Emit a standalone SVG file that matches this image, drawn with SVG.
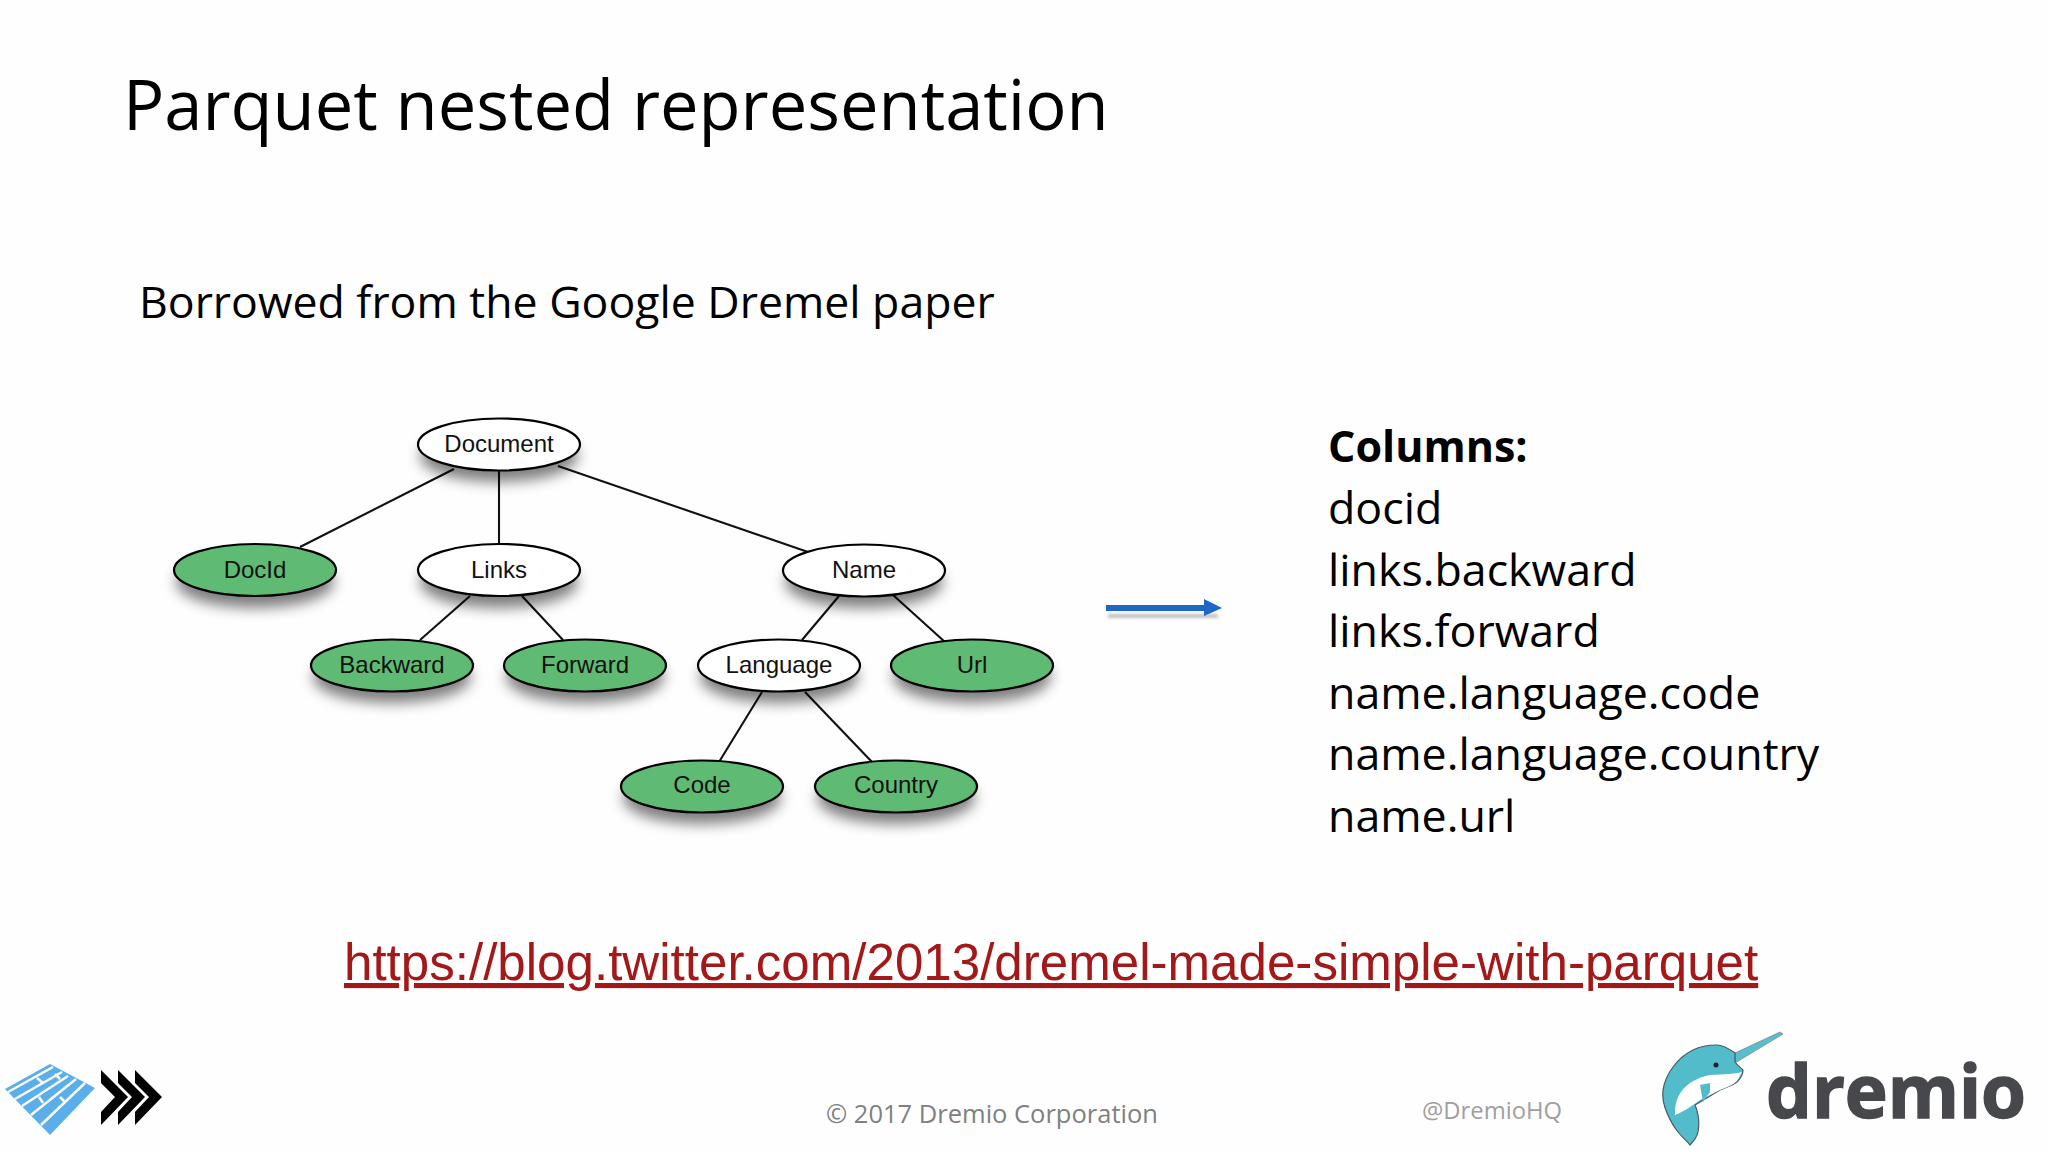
<svg xmlns="http://www.w3.org/2000/svg" width="2048" height="1152" viewBox="0 0 2048 1152">
<style>
.s{font-family:"Open Sans","Noto Sans",sans-serif;fill:#000}
.n{font-family:"Liberation Sans",Arial,sans-serif;font-size:24px;fill:#111;text-anchor:middle}
.e{stroke:#000;stroke-width:2.2}
.g{fill:#5fbb73}.w{fill:#fff}
.l{stroke:#111;stroke-width:2.1;fill:none}
</style>
<defs>
<filter id="sh" x="-30%" y="-50%" width="160%" height="220%"><feGaussianBlur stdDeviation="7"/></filter>
<filter id="sh2" x="-10%" y="-200%" width="120%" height="500%"><feGaussianBlur stdDeviation="1.500"/></filter>
<ellipse id="shadow" rx="79" ry="26" fill="#000" opacity=".5" filter="url(#sh)"/>
</defs>
<rect width="2048" height="1152" fill="#fefefe"/>
<text class="s" x="123" y="130" font-size="68.700">Parquet nested representation</text>
<text class="s" x="139" y="318" font-size="44.600">Borrowed from the Google Dremel paper</text>
<g id="connectors" class="l">
<line x1="454" y1="469" x2="300" y2="547"/>
<line x1="499" y1="470" x2="499" y2="544"/>
<line x1="558" y1="466" x2="808" y2="552"/>
<line x1="470" y1="596" x2="420" y2="640"/>
<line x1="522" y1="596" x2="563" y2="640"/>
<line x1="839" y1="596" x2="802" y2="640"/>
<line x1="893" y1="595" x2="945" y2="642"/>
<line x1="762" y1="692" x2="719" y2="762"/>
<line x1="805" y1="692" x2="872" y2="762"/>
</g>
<g id="Document"><use href="#shadow" x="499" y="456"/><ellipse class="e w" cx="499" cy="444.500" rx="81" ry="26"/><text class="n" x="499" y="452">Document</text></g>
<g id="DocId"><use href="#shadow" x="255" y="582"/><ellipse class="e g" cx="255" cy="570" rx="81" ry="26"/><text class="n" x="255" y="578">DocId</text></g>
<g id="Links"><use href="#shadow" x="499" y="582"/><ellipse class="e w" cx="499" cy="570" rx="81" ry="26"/><text class="n" x="499" y="578">Links</text></g>
<g id="Name"><use href="#shadow" x="864" y="582"/><ellipse class="e w" cx="864" cy="570.500" rx="81" ry="26"/><text class="n" x="864" y="578">Name</text></g>
<g id="Backward"><use href="#shadow" x="392" y="677"/><ellipse class="e g" cx="392" cy="665.500" rx="81" ry="26"/><text class="n" x="392" y="673">Backward</text></g>
<g id="Forward"><use href="#shadow" x="585" y="677"/><ellipse class="e g" cx="585" cy="665.500" rx="81" ry="26"/><text class="n" x="585" y="673">Forward</text></g>
<g id="Language"><use href="#shadow" x="779" y="677"/><ellipse class="e w" cx="779" cy="665.500" rx="81" ry="26"/><text class="n" x="779" y="673">Language</text></g>
<g id="Url"><use href="#shadow" x="972" y="677"/><ellipse class="e g" cx="972" cy="665.500" rx="81" ry="26"/><text class="n" x="972" y="673">Url</text></g>
<g id="Code"><use href="#shadow" x="702" y="798"/><ellipse class="e g" cx="702" cy="786.500" rx="81" ry="26"/><text class="n" x="702" y="793">Code</text></g>
<g id="Country"><use href="#shadow" x="896" y="798"/><ellipse class="e g" cx="896" cy="786.500" rx="81" ry="26"/><text class="n" x="896" y="793">Country</text></g>
<g id="arrow">
<rect x="1108" y="614" width="110" height="4" fill="#999" opacity=".6" filter="url(#sh2)"/>
<path d="M1106 605H1204V599L1222 608L1204 616V611H1106Z" fill="#1e66c8"/>
</g>
<g id="columns" class="s" font-size="44.700">
<text x="1328" y="462" font-weight="700" font-size="43">Columns:</text>
<text x="1328" y="524">docid</text>
<text x="1328" y="586">links.backward</text>
<text x="1328" y="647">links.forward</text>
<text x="1328" y="709">name.language.code</text>
<text x="1328" y="770">name.language.country</text>
<text x="1328" y="832">name.url</text>
</g>
<text x="344" y="980" font-family="Liberation Sans,Arial,sans-serif" font-size="51.100" fill="#a31818" text-decoration="underline">https://blog.twitter.com/2013/dremel-made-simple-with-parquet</text>
<text x="826" y="1123" font-family="Open Sans,Noto Sans,sans-serif" font-size="25.500" fill="#808080">© 2017 Dremio Corporation</text>
<text x="1422" y="1119" font-family="Open Sans,Noto Sans,sans-serif" font-size="23.800" fill="#a0a0a0">@DremioHQ</text>
<g id="logo-left">
<path d="M50 1064 L5 1089 L50 1135 L95 1088Z" fill="#5aaeea"/>
<path d="M8 1092L53 1067M15 1099L62 1072M22 1106L68 1076M31 1115L76 1079M41 1125L85 1083M37 1078L43 1083M55 1074L60 1079M39 1097L43 1103M60 1097L65 1102" stroke="#fefefe" stroke-width="2.500" fill="none"/>
<path d="M101 1070L128 1097L101 1125V1112L115 1097L101 1083Z M118 1070L145 1097L118 1125V1112L132 1097L118 1083Z M135 1070L162 1097L135 1125V1112L149 1097L135 1083Z" fill="#000"/>
</g>
<g id="logo-dremio">
<path d="M1735 1053L1780 1032L1783 1034L1735 1063Z" fill="#58bfce" stroke="#888" stroke-width=".8"/>
<path d="M1735 1053C1728 1048 1722 1045 1717 1045C1705 1045 1697 1048 1693 1050C1683 1055 1678 1060 1673 1067C1667 1075 1664 1083 1663 1090C1662 1098 1664 1106 1667 1113C1670 1120 1674 1127 1678 1132C1682 1137 1687 1141 1690 1145C1694 1141 1697 1137 1698 1132C1699 1126 1699 1120 1698 1115C1697 1110 1696 1107 1695 1105L1720 1090C1727 1087 1733 1085 1737 1082C1741 1078 1743 1074 1743 1070C1740 1067 1737 1065 1735 1062Z" fill="#52bccb" stroke="#4a5a62" stroke-width="1.200"/>
<path d="M1742 1072C1735 1074 1725 1074 1710 1075C1700 1077 1695 1080 1690 1083C1683 1088 1679 1094 1677 1100C1675 1105 1675 1110 1675 1115C1683 1112 1692 1106 1700 1100L1720 1090C1727 1087 1733 1085 1737 1081Z" fill="#fff"/>
<path d="M1710 1083L1700 1085L1703 1102L1710 1092Z" fill="#52bccb"/>
<circle cx="1716" cy="1065" r="2.500" fill="#223"/>
<text x="1766" y="1118" font-family="Open Sans,Noto Sans,sans-serif" font-size="74" font-weight="700" fill="#47484c" stroke="#47484c" stroke-width="1.500" textLength="260" lengthAdjust="spacingAndGlyphs">dremio</text>
</g>
</svg>
